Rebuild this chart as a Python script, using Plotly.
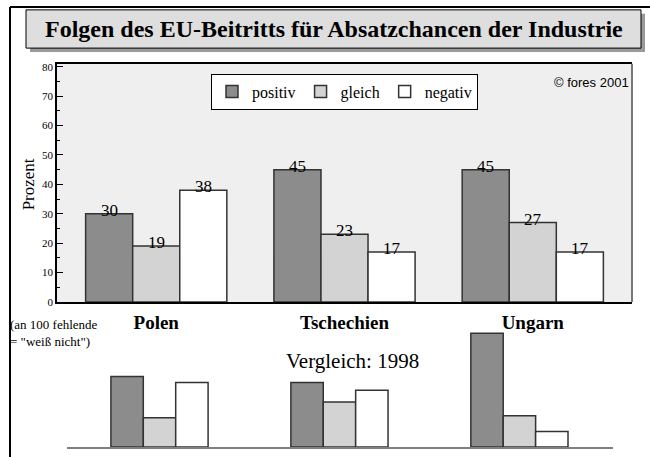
import plotly.graph_objects as go

# ---------------- data ----------------
categories = ["Polen", "Tschechien", "Ungarn"]
series_names = ["positiv", "gleich", "negativ"]
positiv_2001 = [30, 45, 45]
gleich_2001 = [19, 23, 27]
negativ_2001 = [38, 17, 17]
positiv_1998 = [36, 33, 58]
gleich_1998 = [15, 23, 16]
negativ_1998 = [33, 29, 8]
y_ticks = [0, 10, 20, 30, 40, 50, 60, 70, 80]

series_2001 = [positiv_2001, gleich_2001, negativ_2001]
series_1998 = [positiv_1998, gleich_1998, negativ_1998]
colors = ["#8c8c8c", "#d3d3d3", "#ffffff"]

SERIF = "Liberation Serif, Times New Roman, serif"
SANS = "Liberation Sans, Arial, sans-serif"
W, H = 650, 457


def fx(px):
    return px / W


def fy(py):
    return 1 - py / H


x_pos = list(range(len(categories)))
top_w = 0.25
bot_w = 0.18

fig = go.Figure()
for i, (name, vals, col) in enumerate(zip(series_names, series_2001, colors)):
    fig.add_trace(go.Bar(
        x=x_pos, y=vals, name=name, width=top_w, offset=(i - 1.5) * top_w,
        marker=dict(color=col, line=dict(color="#333333", width=1.5)),
        xaxis="x", yaxis="y", hoverinfo="skip"))
for i, (name, vals, col) in enumerate(zip(series_names, series_1998, colors)):
    fig.add_trace(go.Bar(
        x=x_pos, y=vals, name=name, width=bot_w, offset=(i - 1.5) * bot_w,
        marker=dict(color=col, line=dict(color="#333333", width=1.5)),
        xaxis="x2", yaxis="y2", showlegend=False, hoverinfo="skip"))

annotations = []
for i, vals in enumerate(series_2001):
    for j, v in enumerate(vals):
        annotations.append(dict(
            x=x_pos[j] + (i - 1) * top_w, y=v, xref="x", yref="y",
            text=str(v), showarrow=False, yanchor="bottom", yshift=-8,
            font=dict(family=SERIF, size=17, color="black")))

annotations += [
    dict(x=fx(333.5), y=fy(27), xref="paper", yref="paper", showarrow=False,
         text="Folgen des EU-Beitritts für Absatzchancen der Industrie",
         xanchor="center", yanchor="middle",
         font=dict(family=SERIF, size=24, color="black", weight="bold")),
    dict(x=fx(631), y=fy(81), xref="paper", yref="paper", showarrow=False,
         text="© fores 2001", xanchor="right", yanchor="middle",
         font=dict(family=SANS, size=13, color="black")),
    dict(x=fx(28), y=fy(185), xref="paper", yref="paper", showarrow=False,
         text="Prozent", textangle=-90, xanchor="center", yanchor="middle",
         font=dict(family=SERIF, size=17, color="black")),
    dict(x=fx(8), y=fy(318), xref="paper", yref="paper", showarrow=False,
         text="(an 100 fehlende<br>= \"weiß nicht\")", xanchor="left",
         yanchor="top", align="left",
         font=dict(family=SERIF, size=13, color="black")),
    dict(x=fx(352), y=fy(365), xref="paper", yref="paper", showarrow=False,
         text="Vergleich: 1998", xanchor="center", yanchor="middle",
         font=dict(family=SERIF, size=21, color="black")),
]

shapes = [
    # grey background of the 2001 plot area
    dict(type="rect", xref="x domain", yref="y domain", x0=0, x1=1, y0=0, y1=1,
         fillcolor="#efefef", line=dict(width=0), layer="below"),
    # outer frame (top and left edges)
    dict(type="line", xref="paper", yref="paper", x0=fx(10), y0=fy(4),
         x1=fx(652), y1=fy(4), line=dict(color="black", width=2)),
    dict(type="line", xref="paper", yref="paper", x0=fx(10), y0=fy(4),
         x1=fx(10), y1=fy(470), line=dict(color="black", width=2)),
    # title shadow + box
    dict(type="rect", xref="paper", yref="paper", x0=fx(30), y0=fy(11),
         x1=fx(645), y1=fy(50), fillcolor="#9a9a9a", line=dict(width=0)),
    dict(type="rect", xref="paper", yref="paper", x0=fx(26), y0=fy(7),
         x1=fx(641), y1=fy(46), fillcolor="#dedede",
         line=dict(color="black", width=1)),
    # right border of plot area
    dict(type="line", xref="x domain", yref="y domain", x0=1, x1=1, y0=0, y1=1,
         line=dict(color="#777777", width=2)),
]

fig.update_layout(
    width=W, height=H, autosize=False,
    margin=dict(l=0, r=0, t=0, b=0, pad=0),
    paper_bgcolor="white", plot_bgcolor="white",
    barmode="group",
    showlegend=True,
    legend=dict(orientation="h", x=fx(344.5), xanchor="center", y=fy(72),
                yanchor="top", bgcolor="white", bordercolor="black",
                borderwidth=1, font=dict(family=SERIF, size=16, color="black")),
    xaxis=dict(domain=[fx(57), fx(632)], range=[-0.527, 2.527], anchor="y",
               tickvals=x_pos, ticktext=categories, ticks="",
               tickfont=dict(family=SERIF, size=19, color="black", weight="bold"),
               ticklabelstandoff=2,
               showline=True, linecolor="black", linewidth=1.5, mirror=True,
               showgrid=False, zeroline=False, fixedrange=True),
    yaxis=dict(domain=[fy(305), fy(62)], range=[0, 81], anchor="x",
               tickvals=y_ticks, ticks="inside", ticklen=6, tickcolor="black",
               minor=dict(dtick=5, ticklen=3, ticks="inside", tickcolor="black",
                          showgrid=False),
               tickfont=dict(family=SERIF, size=11, color="black"),
               showline=True, linecolor="black", linewidth=1.5,
               showgrid=False, zeroline=False, fixedrange=True),
    xaxis2=dict(domain=[fx(67), fx(613)], range=[-0.514, 2.52], anchor="y2",
                showticklabels=False, ticks="", showline=True,
                linecolor="#808080", linewidth=2, showgrid=False,
                zeroline=False, fixedrange=True),
    yaxis2=dict(domain=[fy(453), fy(330)], range=[0, 61.5], anchor="x2",
                visible=False, fixedrange=True),
    annotations=annotations,
    shapes=shapes,
)

fig.write_html("out.html",
               config={"displayModeBar": False},
               post_script="document.body.style.margin='0';"
                           "document.body.style.padding='0';")
